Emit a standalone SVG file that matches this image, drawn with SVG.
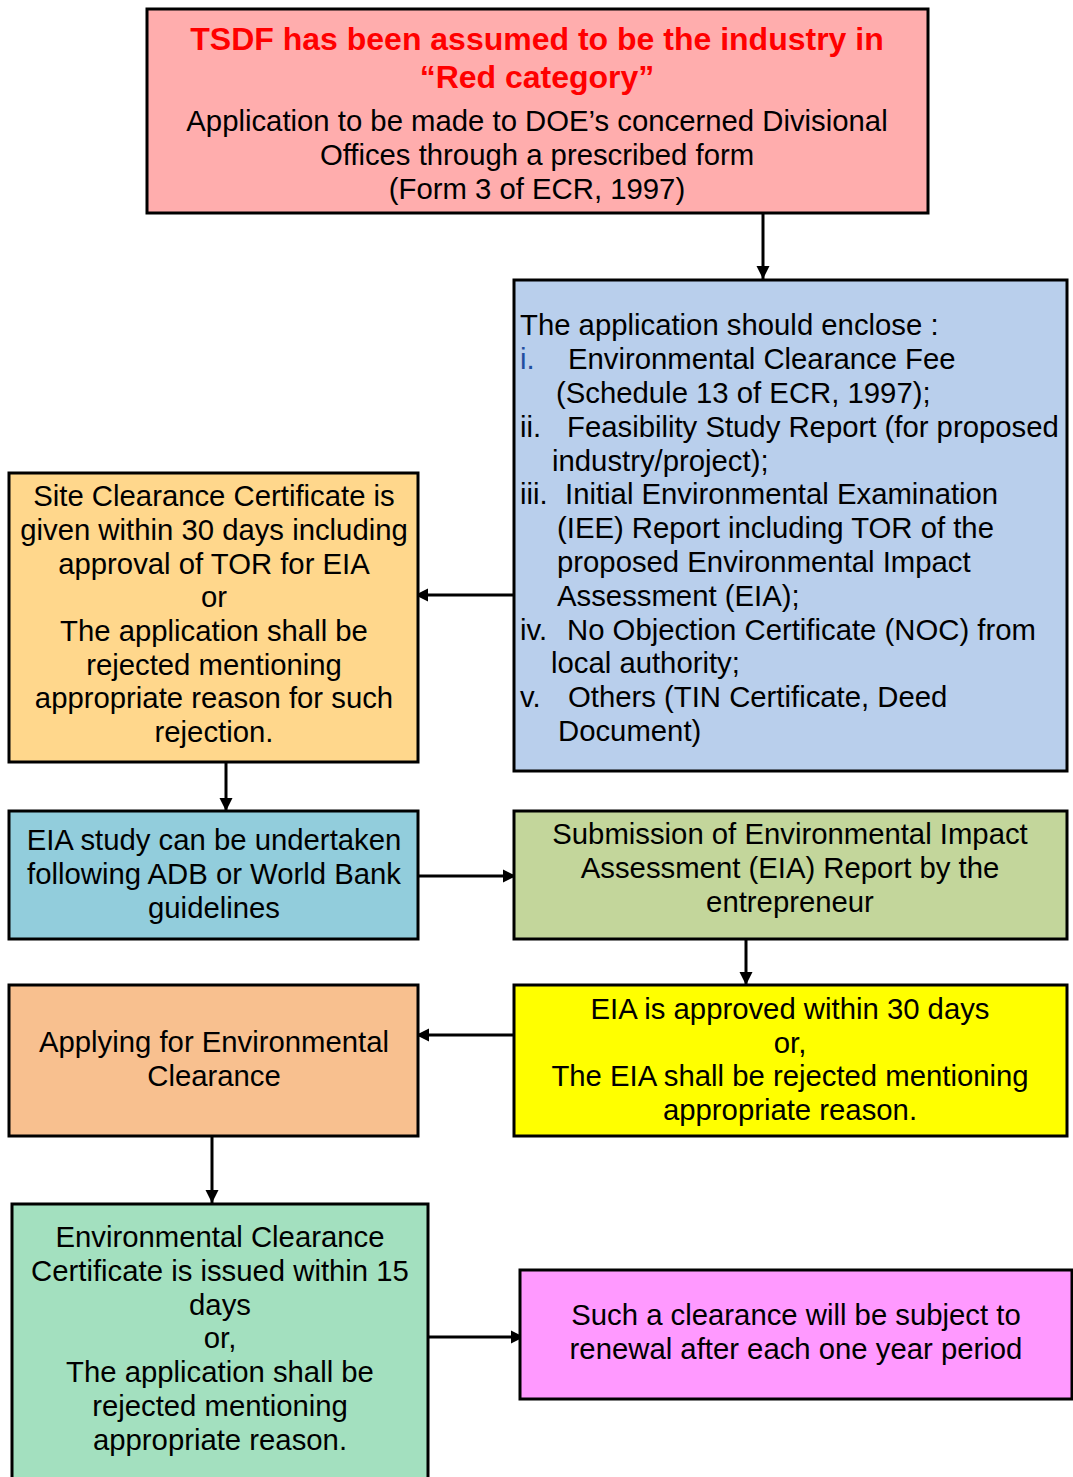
<svg xmlns="http://www.w3.org/2000/svg" width="1073" height="1477" viewBox="0 0 1073 1477">
<style>
  .box { stroke: #000; stroke-width: 3; }
  .t { font-family: "Liberation Sans", Arial, sans-serif; font-size: 29.3px; fill: #000; }
  .c { text-anchor: middle; }
  .title { font-family: "Liberation Sans", Arial, sans-serif; font-size: 32px; font-weight: bold; fill: #FF0000; text-anchor: middle; }
  .conn { stroke: #000; stroke-width: 3; fill: none; marker-end: url(#ah); }
</style>
<defs>
  <marker id="ah" viewBox="0 0 13 16" refX="13" refY="8" markerWidth="13" markerHeight="16" markerUnits="userSpaceOnUse" orient="auto">
    <path d="M0,1.5 L13,8 L0,14.5 z" fill="#000"/>
  </marker>
</defs>
<rect width="1073" height="1477" fill="#fff"/>

<g id="connectors">
  <line class="conn" x1="763" y1="214" x2="763" y2="279"/>
  <line class="conn" x1="513" y1="595" x2="415" y2="595"/>
  <line class="conn" x1="226" y1="762" x2="226" y2="811"/>
  <line class="conn" x1="418" y1="876" x2="516" y2="876"/>
  <line class="conn" x1="746" y1="939" x2="746" y2="985"/>
  <line class="conn" x1="514" y1="1035" x2="416" y2="1035"/>
  <line class="conn" x1="212" y1="1137" x2="212" y2="1203"/>
  <line class="conn" x1="428" y1="1337" x2="524" y2="1337"/>
</g>

<g id="node-red">
  <rect class="box" x="147" y="9" width="781" height="204" fill="#FFADAD"/>
  <text class="title" x="537" y="50">TSDF has been assumed to be the industry in</text>
  <text class="title" x="537" y="88">“Red category”</text>
  <text class="t c" x="537" y="131">Application to be made to DOE’s concerned Divisional</text>
  <text class="t c" x="537" y="165">Offices through a prescribed form</text>
  <text class="t c" x="537" y="199">(Form 3 of ECR, 1997)</text>
</g>

<g id="node-enclose">
  <rect class="box" x="514" y="280" width="553" height="491" fill="#B9CFEC"/>
  <text class="t" x="520" y="335">The application should enclose :</text>
  <text class="t" x="520" y="369"><tspan fill="#1F4EA0">i.</tspan></text>
  <text class="t" x="568" y="369">Environmental Clearance Fee</text>
  <text class="t" x="556" y="403">(Schedule 13 of ECR, 1997);</text>
  <text class="t" x="520" y="437">ii.</text>
  <text class="t" x="567" y="437">Feasibility Study Report (for proposed</text>
  <text class="t" x="552" y="471">industry/project);</text>
  <text class="t" x="520" y="504">iii.</text>
  <text class="t" x="565" y="504">Initial Environmental Examination</text>
  <text class="t" x="557" y="538">(IEE) Report including TOR of the</text>
  <text class="t" x="557" y="572">proposed Environmental Impact</text>
  <text class="t" x="557" y="606">Assessment (EIA);</text>
  <text class="t" x="520" y="640">iv.</text>
  <text class="t" x="567" y="640">No Objection Certificate (NOC) from</text>
  <text class="t" x="551" y="673">local authority;</text>
  <text class="t" x="520" y="707">v.</text>
  <text class="t" x="568" y="707">Others (TIN Certificate, Deed</text>
  <text class="t" x="558" y="741">Document)</text>
</g>

<g id="node-site">
  <rect class="box" x="9" y="473" width="409" height="289" fill="#FFD78C"/>
  <text class="t c" x="214" y="506">Site Clearance Certificate is</text>
  <text class="t c" x="214" y="540">given within 30 days including</text>
  <text class="t c" x="214" y="574">approval of TOR for EIA</text>
  <text class="t c" x="214" y="607">or</text>
  <text class="t c" x="214" y="641">The application shall be</text>
  <text class="t c" x="214" y="675">rejected mentioning</text>
  <text class="t c" x="214" y="708">appropriate reason for such</text>
  <text class="t c" x="214" y="742">rejection.</text>
</g>

<g id="node-eia-study">
  <rect class="box" x="9" y="811" width="409" height="128" fill="#92CDDC"/>
  <text class="t c" x="214" y="850">EIA study can be undertaken</text>
  <text class="t c" x="214" y="884">following ADB or World Bank</text>
  <text class="t c" x="214" y="918">guidelines</text>
</g>

<g id="node-submission">
  <rect class="box" x="514" y="811" width="553" height="128" fill="#C3D69B"/>
  <text class="t c" x="790" y="844">Submission of Environmental Impact</text>
  <text class="t c" x="790" y="878">Assessment (EIA) Report by the</text>
  <text class="t c" x="790" y="912">entrepreneur</text>
</g>

<g id="node-approved">
  <rect class="box" x="514" y="985" width="553" height="151" fill="#FFFF00"/>
  <text class="t c" x="790" y="1019">EIA is approved within 30 days</text>
  <text class="t c" x="790" y="1053">or,</text>
  <text class="t c" x="790" y="1086">The EIA shall be rejected mentioning</text>
  <text class="t c" x="790" y="1120">appropriate reason.</text>
</g>

<g id="node-applying">
  <rect class="box" x="9" y="985" width="409" height="151" fill="#F8C08F"/>
  <text class="t c" x="214" y="1052">Applying for Environmental</text>
  <text class="t c" x="214" y="1086">Clearance</text>
</g>

<g id="node-certificate">
  <rect class="box" x="12" y="1204" width="416" height="280" fill="#A3E0BF"/>
  <text class="t c" x="220" y="1247">Environmental Clearance</text>
  <text class="t c" x="220" y="1281">Certificate is issued within 15</text>
  <text class="t c" x="220" y="1315">days</text>
  <text class="t c" x="220" y="1348">or,</text>
  <text class="t c" x="220" y="1382">The application shall be</text>
  <text class="t c" x="220" y="1416">rejected mentioning</text>
  <text class="t c" x="220" y="1450">appropriate reason.</text>
</g>

<g id="node-renewal">
  <rect class="box" x="520" y="1270" width="552" height="129" fill="#FF99FF"/>
  <text class="t c" x="796" y="1325">Such a clearance will be subject to</text>
  <text class="t c" x="796" y="1359">renewal after each one year period</text>
</g>
</svg>
